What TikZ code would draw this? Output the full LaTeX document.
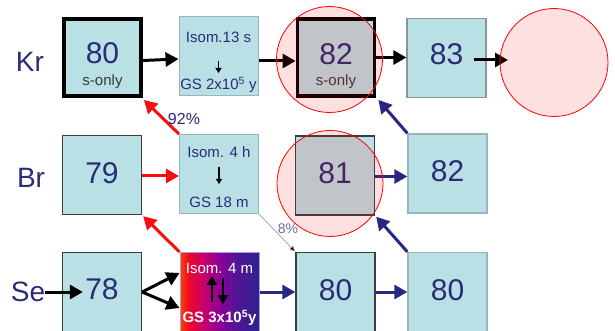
\documentclass[tikz,border=0pt]{standalone}
\usepackage{fontspec}
\setmainfont{Liberation Sans}
\usetikzlibrary{arrows.meta,calc}
\definecolor{cy}{RGB}{185,224,229}
\definecolor{navytxt}{RGB}{42,44,118}
\definecolor{navyarr}{RGB}{40,40,130}
\definecolor{redarr}{RGB}{245,15,15}
\definecolor{bddark}{RGB}{55,62,64}
\definecolor{bdgray}{RGB}{130,150,155}
\definecolor{bdlight}{RGB}{150,182,190}
\definecolor{lav}{RGB}{160,160,225}
\definecolor{gA}{RGB}{255,70,0}
\definecolor{gB}{RGB}{240,10,35}
\definecolor{gC}{RGB}{200,0,110}
\definecolor{gD}{RGB}{140,0,150}
\definecolor{gE}{RGB}{85,20,150}
\definecolor{gF}{RGB}{45,35,140}
\pgfdeclarehorizontalshading{isoshade}{100bp}{color(0bp)=(gA); color(25bp)=(gA); color(30bp)=(gB); color(40bp)=(gC); color(50bp)=(gD); color(60bp)=(gE); color(75bp)=(gF); color(100bp)=(gF)}
\begin{document}
\begin{tikzpicture}[x=1pt,y=-1pt,
  box/.style={draw=bddark, fill=cy, minimum width=79pt, minimum height=79pt, inner sep=0pt, line width=1.3pt},
  thickbox/.style={draw=black, fill=cy, minimum width=77pt, minimum height=77pt, inner sep=0pt, line width=3.8pt},
  num/.style={text=navytxt, font=\fontsize{30}{30}\selectfont, inner sep=0pt},
  sonly/.style={text=black!78, font=\fontsize{15}{15}\selectfont, inner sep=0pt},
  isot/.style={text=navytxt, font=\fontsize{15}{15}\selectfont, inner sep=0pt},
  elem/.style={text=navytxt, font=\fontsize{28}{28}\selectfont, inner sep=0pt},
  pct/.style={text=navytxt, font=\fontsize{16}{16}\selectfont, inner sep=0pt},
  blkarr/.style={draw=black, line width=3pt, -{Triangle[length=13pt,width=14pt]}},
  redarrow/.style={draw=redarr, line width=3pt, -{Triangle[length=13pt,width=14pt]}},
  navyarrow/.style={draw=navyarr, line width=3pt, -{Triangle[length=13pt,width=14pt]}},
  smallarr/.style={draw=black, line width=1.6pt, -{Triangle[length=5pt,width=6pt]}},
  ring/.style={circle, draw=red, fill=red, fill opacity=0.12, draw opacity=1, minimum size=106pt, inner sep=0pt, line width=0.8pt}
]
\useasboundingbox (0,0) rectangle (615,331);

% element labels
\node[elem] (lkr) at (30,62) {Kr};
\node[elem] (lbr) at (31,178) {Br};
\node[elem] (lse) at (28,292) {Se};

% Kr row
\node[thickbox] (kr80) at (102.5,57.5) {};
\node[num] (kr80n) at ($(kr80)+(0,-4)$) {80};
\node[sonly] (kr80s) at ($(kr80)+(0,24)$) {s-only};
\node[box, draw=bdlight, line width=1pt] (i13) at (218.5,56) {};
\node[isot] (i13a) at ($(i13)+(0,-19)$) {Isom.13 s};
\node[isot] (i13b) at ($(i13)+(0,29)$) {GS 2x10\textsuperscript{5} y};
\coordinate (i13u) at ($(i13)+(0,5)$);
\coordinate (i13d) at ($(i13)+(0,17)$);
\node[thickbox] (kr82) at (336,57.5) {};
\node[num] (kr82n) at ($(kr82)+(0,-3)$) {82};
\node[sonly] (kr82s) at ($(kr82)+(0,24)$) {s-only};
\node[box, draw=bdgray] (kr83) at (446.5,58) {};
\node[num] (kr83n) at ($(kr83)+(0,-4)$) {83};

% Br row
\node[box] (br79) at (102,175) {};
\node[num] (br79n) at ($(br79)+(0,-2)$) {79};
\node[box, draw=bdlight, line width=1pt] (i4h) at (219,174) {};
\node[isot] (i4ha) at ($(i4h)+(0,-22)$) {Isom. 4 h};
\node[isot] (i4hb) at ($(i4h)+(0,28)$) {GS 18 m};
\coordinate (i4hu) at ($(i4h)+(0,-7)$);
\coordinate (i4hd) at ($(i4h)+(0,10)$);
\node[box] (br81) at (335,175.5) {};
\node[num] (br81n) at ($(br81)+(0,-2)$) {81};
\node[box, draw=bdlight, line width=1.3pt] (br82) at (447.5,173.5) {};
\node[num] (br82n) at ($(br82)+(0,-2)$) {82};

% Se row
\node[box] (se78) at (102,292) {};
\node[num] (se78n) at ($(se78)+(0,-3)$) {78};
\node[draw=lav, line width=1pt, shading=isoshade,
      minimum width=79pt, minimum height=79pt, inner sep=0pt] (i4m) at (219.5,292) {};
\node[isot, text=white] (i4ma) at ($(i4m)+(0,-24)$) {Isom. 4 m};
\node[isot, text=white, font=\fontsize{15}{15}\selectfont\bfseries] (i4mb) at ($(i4m)+(0,26)$) {GS 3x10\textsuperscript{5}y};
\coordinate (i4mua) at ($(i4m)+(-7.5,10)$);
\coordinate (i4mub) at ($(i4m)+(-7.5,-16)$);
\coordinate (i4mda) at ($(i4m)+(3.5,-14)$);
\coordinate (i4mdb) at ($(i4m)+(3.5,12)$);
\node[box] (se80a) at (335.5,292) {};
\node[num] (se80an) at ($(se80a)+(0,-2)$) {80};
\node[box, draw=bdlight] (se80b) at (447.5,292) {};
\node[num] (se80bn) at ($(se80b)+(0,-2)$) {80};

% inner small arrows
\draw[smallarr] (i13u) -- (i13d);
\draw[smallarr] (i4hu) -- (i4hd);
\draw[blkarr, line width=2.5pt, -{Triangle[length=9pt,width=10pt]}] (i4mua) -- (i4mub);
\draw[blkarr, line width=2.5pt, -{Triangle[length=9pt,width=10pt]}] (i4mda) -- (i4mdb);

% Kr row arrows
\draw[blkarr] ([yshift=-3pt]kr80.east) -- ([yshift=-3pt]i13.west);
\draw[blkarr] ([yshift=-5pt]i13.east) -- ([yshift=-5pt]i13.east -| kr82.west);
\draw[blkarr] (kr82.east) -- (kr82.east -| kr83.west);

% circles coordinates
\coordinate (c2c) at (554,62.5);
\coordinate (k83o) at ($(kr83.east)+(-13,2)$);
\coordinate (c2in) at (508,60);
\draw[blkarr] (k83o) -- (c2in);

% Br row arrows
\draw[redarrow] ([yshift=-1pt]br79.east) -- ([yshift=-1pt]br79.east -| i4h.west);
\draw[redarrow] (i4h.north west) -- ($(kr80.south east)+(1,2)$);
\node[pct] (p92) at (184,119) {92\%};
\draw[navyarrow] ([yshift=-1pt]br81.east) -- ([yshift=-1pt]br81.east -| br82.west);
\draw[navyarrow] (br82.north west) -- ($(kr82.south east)+(2,2)$);

% Se row arrows
\draw[blkarr] (lse.east) -- ($(se78.west)+(21,0)$);
\draw[blkarr] (se78.east) -- ($(i4m.west)+(0,-19)$);
\draw[blkarr] (se78.east) -- ($(i4m.west)+(0,16)$);
\draw[redarrow] (i4m.north west) -- ($(br79.south east)+(1,1)$);
\draw[navyarrow] (i4m.east) -- (se80a.west);
\draw[navyarrow] (se80a.east) -- (se80b.west);
\draw[navyarrow] (se80b.north west) -- ($(br81.south east)+(1,1)$);

% 8% branch
\draw[draw=black!40, line width=0.7pt, -{Triangle[length=6pt,width=5pt,fill=black]}] (i4h.south east) -- (se80a.north west);
\node[pct, text=navytxt!70, font=\fontsize{14}{14}\selectfont] (p8) at (288,229) {8\%};

% circles overlay
\node[ring] (c1) at (329.5,59.5) {};
\node[ring, minimum size=108pt] (c2) at (c2c) {};
\node[ring] (c3) at (330,183.5) {};
\end{tikzpicture}
\end{document}
